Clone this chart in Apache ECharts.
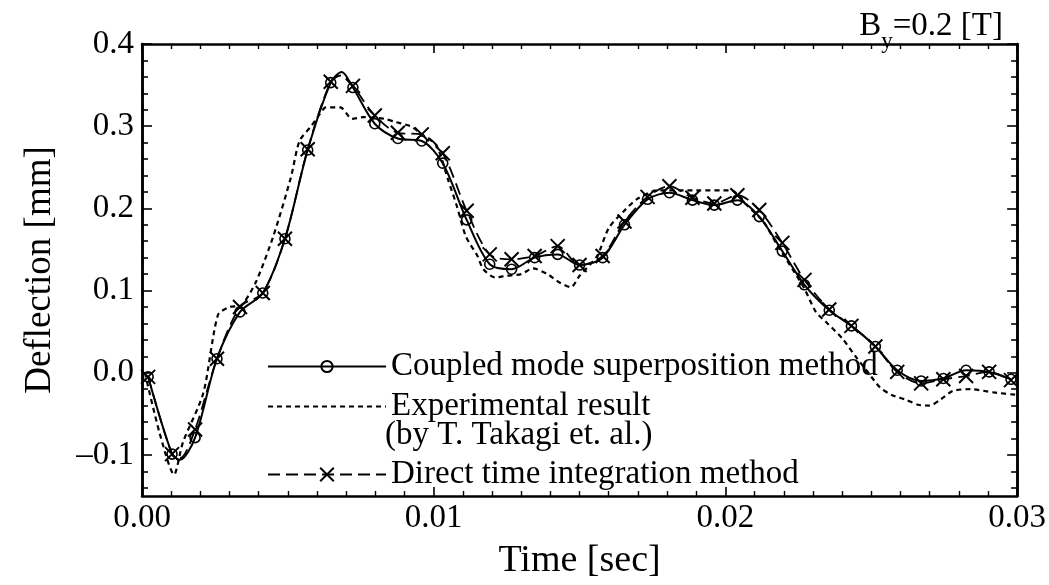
<!DOCTYPE html>
<html>
<head>
<meta charset="utf-8">
<script src="https://cdn.jsdelivr.net/npm/echarts@6/dist/echarts.min.js"></script>
<style>
  html, body { margin: 0; padding: 0; background: #fff; }
  #chart { width: 1049px; height: 585px; }
</style>
</head>
<body>
<div id="chart"></div>
<script>
// Sample times [s] of the plotted markers (both computed methods share them)
var markTime = [0.00021, 0.00103, 0.00182, 0.00257, 0.00336, 0.00414, 0.00490, 0.00568, 0.00647, 0.00723,
                0.00798, 0.00877, 0.00959, 0.01031, 0.01113, 0.01192, 0.01267, 0.01346, 0.01425, 0.01500,
                0.01579, 0.01654, 0.01733, 0.01808, 0.01887, 0.01962, 0.02041, 0.02116, 0.02195, 0.02271,
                0.02356, 0.02432, 0.02514, 0.02589, 0.02671, 0.02747, 0.02825, 0.02904, 0.02979];

// Coupled mode superposition method: deflection [mm] at the marker times
var coupledDefl = [-0.005, -0.099, -0.079, 0.017, 0.074, 0.097, 0.163, 0.271, 0.353, 0.347,
                   0.303, 0.285, 0.282, 0.255, 0.186, 0.132, 0.126, 0.140, 0.144, 0.131,
                   0.140, 0.180, 0.211, 0.219, 0.210, 0.204, 0.210, 0.190, 0.148, 0.107,
                   0.076, 0.057, 0.032, 0.003, -0.010, -0.007, 0.003, 0.001, -0.008];
// extra curve points between markers (trough and peak)
var coupledExtraTime = [0.00130, 0.00685];
var coupledExtraDefl = [-0.106, 0.366];

// Direct time integration method: deflection [mm] at the marker times
var directDefl = [-0.005, -0.099, -0.069, 0.017, 0.080, 0.097, 0.163, 0.272, 0.354, 0.349,
                  0.313, 0.292, 0.290, 0.267, 0.197, 0.144, 0.138, 0.142, 0.154, 0.131,
                  0.142, 0.184, 0.214, 0.227, 0.213, 0.206, 0.216, 0.198, 0.158, 0.113,
                  0.077, 0.057, 0.032, 0.001, -0.013, -0.008, -0.004, 0.001, -0.009];
var directExtraTime = [0.00130, 0.00685];
var directExtraDefl = [-0.104, 0.362];

// Experimental result (T. Takagi et al.)
var expTime = [0.0001, 0.0006, 0.0011, 0.0014, 0.0021, 0.0026, 0.0030, 0.0034, 0.0039, 0.0045,
               0.0051, 0.0054, 0.0058, 0.0061, 0.0063, 0.0068, 0.0072, 0.0076, 0.0083, 0.0087,
               0.0092, 0.0096, 0.0101, 0.0105, 0.0108, 0.0111, 0.0115, 0.0117, 0.0121, 0.0125,
               0.0130, 0.0134, 0.0139, 0.0143, 0.0147, 0.0150, 0.0156, 0.0160, 0.0165, 0.0170,
               0.0177, 0.0190, 0.0202, 0.0207, 0.0213, 0.0218, 0.0223, 0.0227, 0.0231, 0.0235,
               0.0240, 0.0245, 0.0249, 0.0253, 0.0257, 0.0262, 0.0266, 0.0270, 0.0274, 0.0278,
               0.0284, 0.0292, 0.0300];
var expDefl = [0.000, -0.073, -0.124, -0.085, -0.025, 0.070, 0.080, 0.082, 0.110, 0.166,
               0.237, 0.282, 0.300, 0.315, 0.323, 0.323, 0.309, 0.311, 0.309, 0.305,
               0.300, 0.290, 0.276, 0.234, 0.202, 0.166, 0.142, 0.126, 0.116, 0.118,
               0.120, 0.127, 0.120, 0.110, 0.104, 0.118, 0.142, 0.176, 0.196, 0.212,
               0.222, 0.222, 0.222, 0.205, 0.184, 0.154, 0.126, 0.103, 0.074, 0.060,
               0.042, 0.018, 0.000, -0.018, -0.027, -0.033, -0.039, -0.040, -0.032, -0.022,
               -0.020, -0.024, -0.027];

// Axis ticks
var xTicks = [0, 0.01, 0.02, 0.03];
var yTicks = [-0.1, 0.0, 0.1, 0.2, 0.3, 0.4];
var yMin = -0.15, yMax = 0.4;

var names = {
  coupled: 'Coupled mode superposition method',
  exp: 'Experimental result',
  direct: 'Direct time integration method'
};

var FONT = '"Liberation Serif", "DejaVu Serif", serif';

// minor y ticks every 0.02 between the major ones
var yMinor = [];
for (var k = -7; k <= 20; k++) {
  var v = Math.round(k * 0.02 * 1000) / 1000;
  if (Math.abs(Math.round(v * 10) / 10 - v) > 1e-9) yMinor.push(v);
}

// merge marker points with extra (unmarked) curve points
function curve(times, vals, extraT, extraV) {
  var pts = [];
  times.forEach(function (t, i) { pts.push({ value: [t, vals[i]] }); });
  extraT.forEach(function (t, i) { pts.push({ value: [t, extraV[i]], symbol: 'none' }); });
  pts.sort(function (a, b) { return a.value[0] - b.value[0]; });
  return pts;
}

function yLabel(v) {
  var s = Math.abs(v).toFixed(1);
  return v < -1e-9 ? '\u2013' + s : s;
}

function yAxisDef(position, ticks, len, labels) {
  return {
    type: 'value', min: yMin, max: yMax, position: position,
    axisLine: { show: true, lineStyle: { color: '#000', width: 2.5 } },
    axisTick: { show: true, inside: true, length: len, customValues: ticks, lineStyle: { color: '#000', width: 1.6 } },
    axisLabel: labels ? {
      show: true, customValues: yTicks, formatter: yLabel, color: '#000',
      fontFamily: FONT, fontSize: 33, margin: 8
    } : { show: false },
    splitLine: { show: false }
  };
}

function xAxisDef(position, labels) {
  return {
    type: 'value', min: 0, max: 0.03, interval: 0.01, position: position,
    axisLine: { show: true, onZero: false, lineStyle: { color: '#000', width: 2.5 } },
    axisTick: { show: true, inside: true, length: 9, lineStyle: { color: '#000', width: 1.6 } },
    minorTick: { show: true, splitNumber: 10, length: 5, lineStyle: { color: '#000', width: 1.4 } },
    axisLabel: labels ? {
      show: true, color: '#000', fontFamily: FONT, fontSize: 33, margin: 6,
      formatter: function (v) { return v.toFixed(2); }
    } : { show: false },
    splitLine: { show: false },
    minorSplitLine: { show: false }
  };
}

var xBottom = xAxisDef('bottom', true);
xBottom.name = 'Time [sec]';
xBottom.nameLocation = 'middle';
xBottom.nameGap = 46;
xBottom.nameTextStyle = { color: '#000', fontFamily: FONT, fontSize: 38 };

var yLeft = yAxisDef('left', yTicks, 10, true);
yLeft.name = 'Deflection [mm]';
yLeft.nameLocation = 'middle';
yLeft.nameGap = 83;
yLeft.nameTextStyle = { color: '#000', fontFamily: FONT, fontSize: 37 };

var legendText = { color: '#000', fontFamily: FONT, fontSize: 33, lineHeight: 32 };

var option = {
  backgroundColor: '#fff',
  animation: false,
  title: {
    text: '{b|B}{s|y}{b|=0.2 [T]}',
    right: 41, top: 2,
    textStyle: {
      rich: {
        b: { fontFamily: FONT, fontSize: 33, fontWeight: 'normal', color: '#000', verticalAlign: 'bottom', lineHeight: 36 },
        s: { fontFamily: FONT, fontSize: 23, fontWeight: 'normal', color: '#000', verticalAlign: 'bottom', lineHeight: 27, padding: [0, 0, -10, 0] }
      }
    }
  },
  grid: { left: 142, right: 31, top: 44, bottom: 80, containLabel: false },
  xAxis: [xBottom, xAxisDef('top', false)],
  yAxis: [
    yLeft,
    yAxisDef('left', yMinor, 6, false),
    yAxisDef('right', yTicks, 10, false),
    yAxisDef('right', yMinor, 6, false)
  ],
  legend: [
    {
      data: [names.coupled, { name: names.exp, itemStyle: { opacity: 0 } }],
      orient: 'vertical', left: 262, top: 345, itemGap: 7,
      itemWidth: 118, itemHeight: 14, textStyle: legendText, selectedMode: false
    },
    {
      data: [names.direct],
      orient: 'vertical', left: 262, top: 453,
      itemWidth: 118, itemHeight: 17, textStyle: legendText, selectedMode: false
    }
  ],
  graphic: [{
    type: 'text', left: 385, top: 419,
    style: { text: '(by T. Takagi et. al.)', font: '33px ' + FONT, fill: '#000' }
  }],
  series: [
    {
      name: names.coupled, type: 'line', smooth: 0.3,
      data: curve(markTime, coupledDefl, coupledExtraTime, coupledExtraDefl),
      symbol: 'circle', symbolSize: 10,
      itemStyle: { color: 'rgba(0,0,0,0)', borderColor: '#000', borderWidth: 1.6 },
      lineStyle: { color: '#000', width: 2 },
      z: 3
    },
    {
      name: names.exp, type: 'line', smooth: 0.25,
      data: expTime.map(function (t, i) { return [t, expDefl[i]]; }),
      symbol: 'none',
      itemStyle: { color: '#000' },
      lineStyle: { color: '#000', width: 2.2, type: [5, 4] },
      z: 2
    },
    {
      name: names.direct, type: 'line', smooth: 0.3,
      data: curve(markTime, directDefl, directExtraTime, directExtraDefl),
      symbol: 'path://M0,0L10,10M10,0L0,10', symbolSize: 14,
      itemStyle: { color: 'rgba(0,0,0,0)', borderColor: '#000', borderWidth: 2 },
      lineStyle: { color: '#000', width: 1.8, type: [12, 6] },
      z: 4
    }
  ]
};

var chart = echarts.init(document.getElementById('chart'), null, { renderer: 'canvas' });
chart.setOption(option);
</script>
</body>
</html>
